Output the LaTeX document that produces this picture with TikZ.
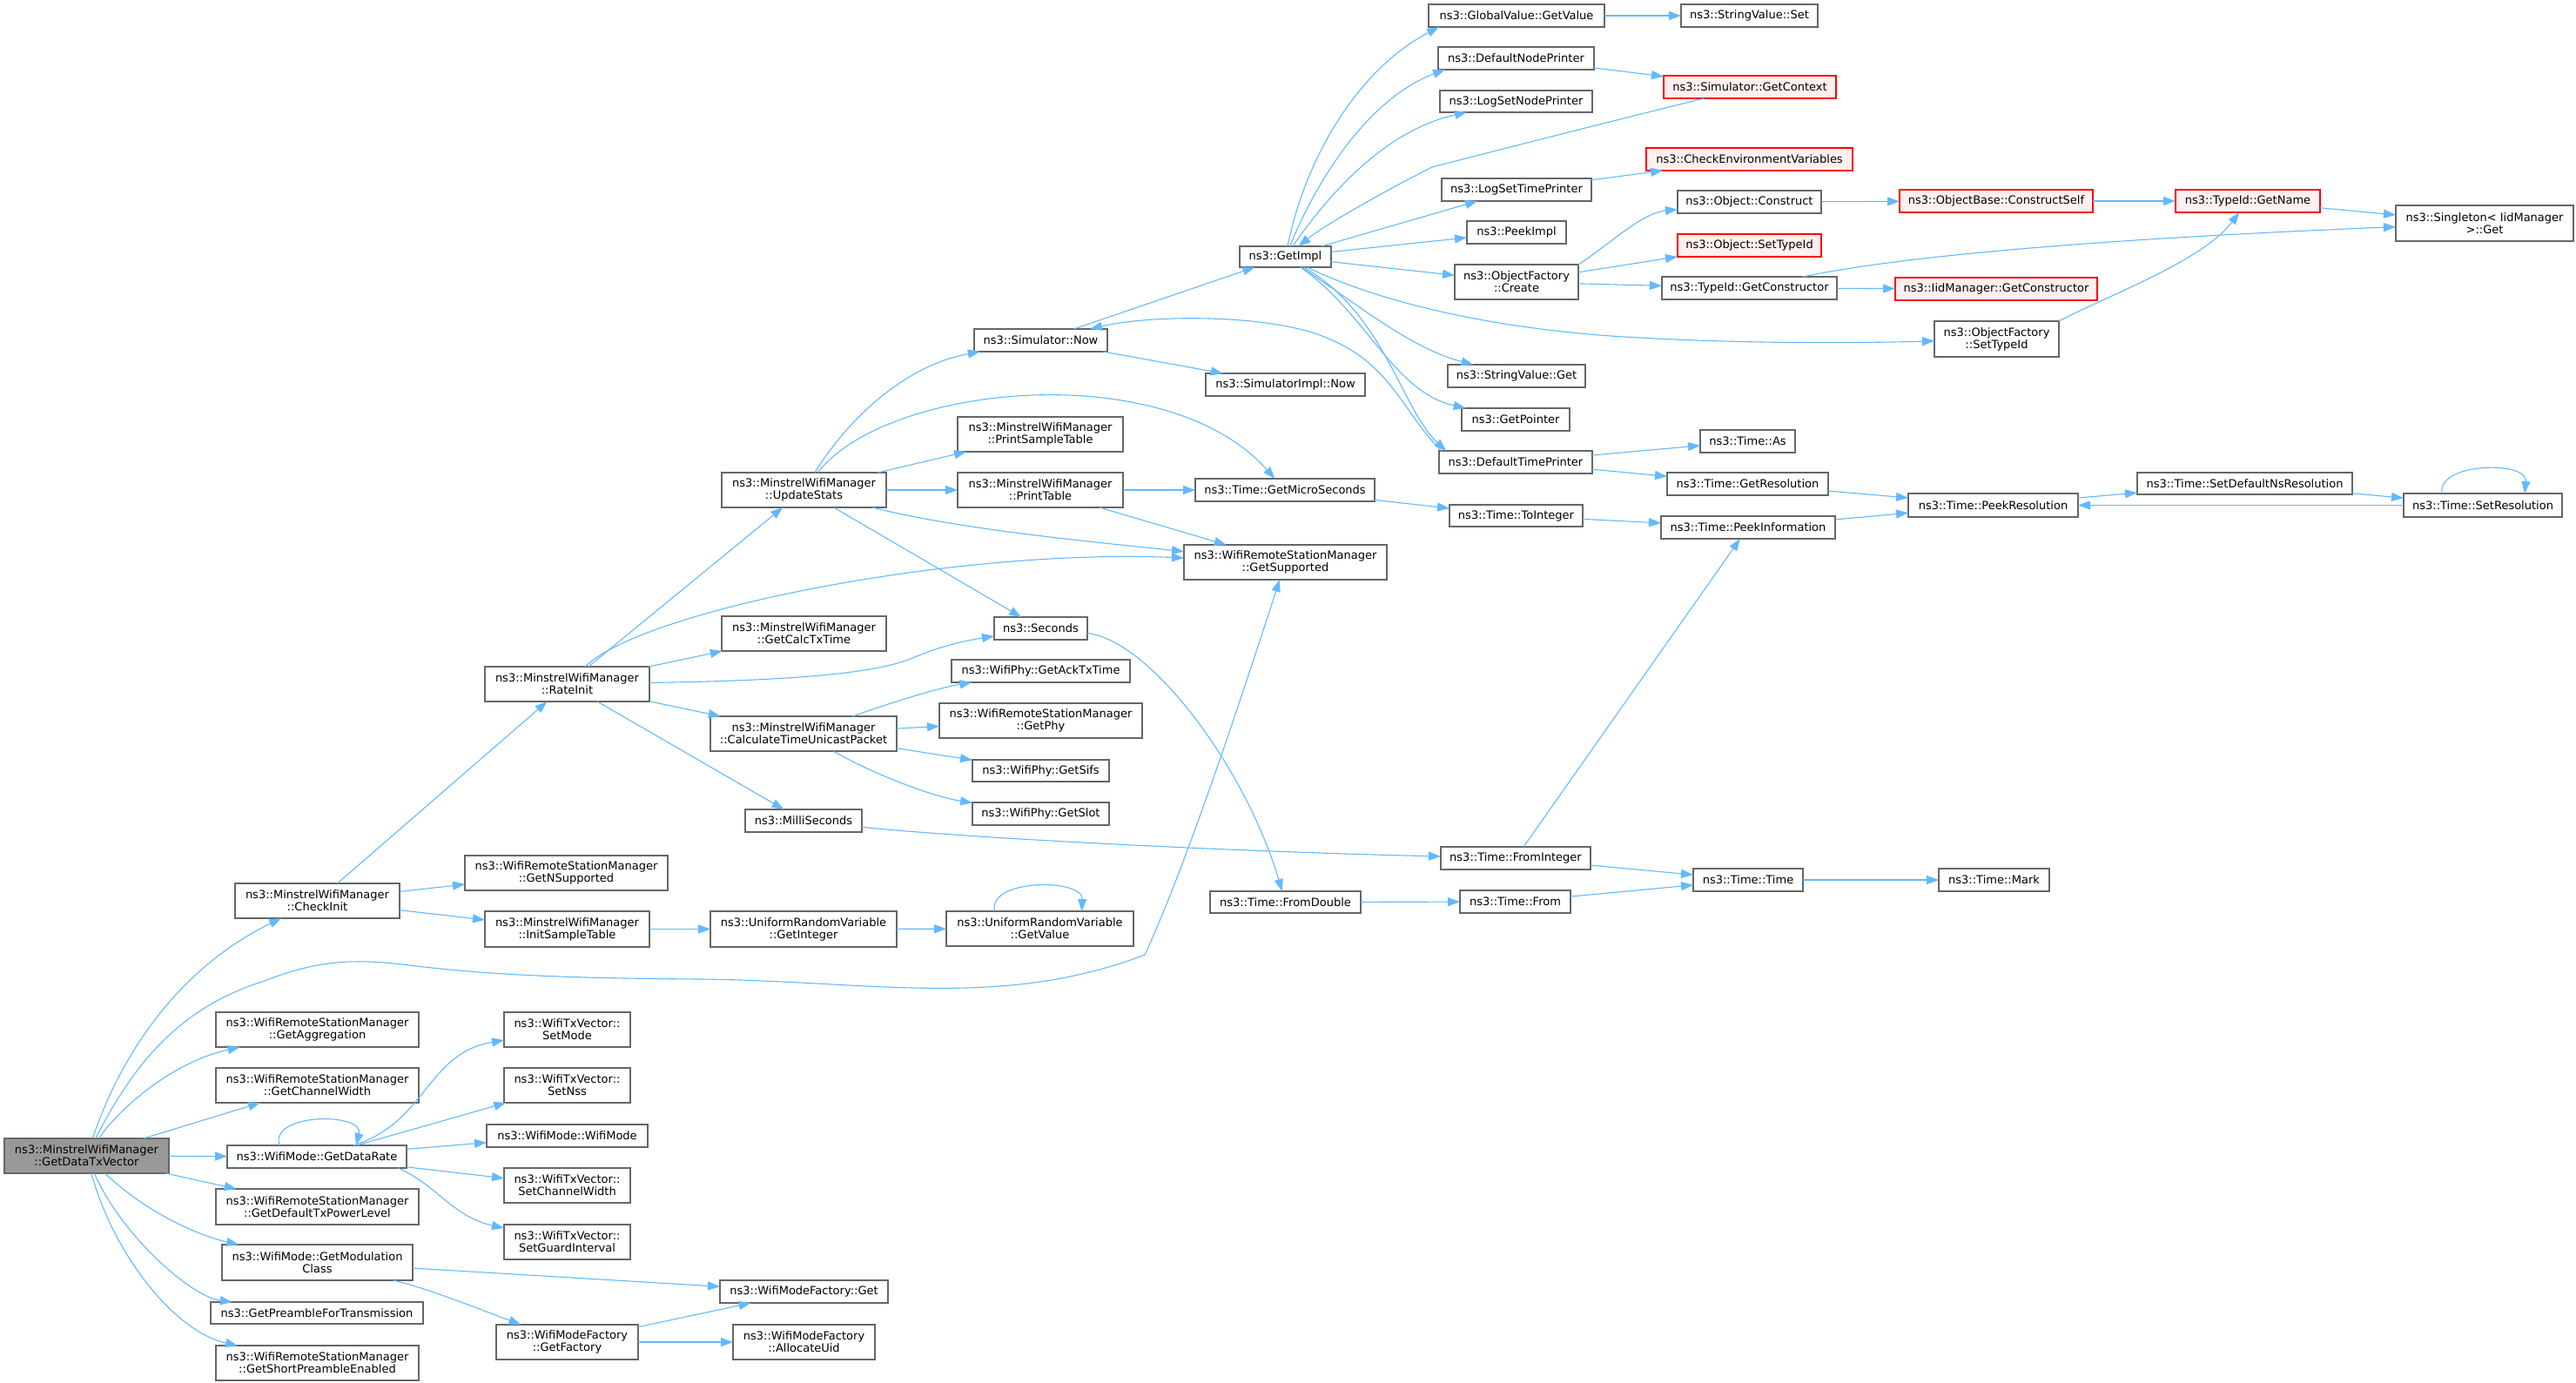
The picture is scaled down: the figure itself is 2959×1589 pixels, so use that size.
\documentclass[tikz,border=0pt]{standalone}
\usepackage{fontspec}
\setmainfont{DejaVu Sans}
\usetikzlibrary{arrows.meta}
\definecolor{edgec}{HTML}{63B8FF}
\definecolor{boxline}{HTML}{666666}
\definecolor{redfill}{HTML}{FFF0F0}
\definecolor{redline}{HTML}{FF0000}
\definecolor{grayfill}{HTML}{999999}
\tikzset{
  fn/.style={draw=boxline, fill=white, line width=1.2pt, inner xsep=3pt, inner ysep=1pt, outer sep=0pt, align=center, font=\fontsize{13}{14}\selectfont},
  fnred/.style={fn, draw=redline, fill=redfill},
  fnmain/.style={fn, fill=grayfill},
  edge/.style={draw=edgec, line width=1.1pt, -{Triangle[length=14pt,width=10pt]}}
}
\newcommand{\mybox}[7]{\node[#1, minimum width={#5pt-#3pt}, minimum height={#6pt-#4pt}] (#2) at ({(#3+#5)/2},{(#4+#6)/2}) {#7};}
\begin{document}
\begin{tikzpicture}[x=1pt,y=-1pt]
\useasboundingbox (0,0) rectangle (2959,1589);
% left column
\mybox{fnmain}{gdtv}{5}{1308}{194}{1348}{ns3::MinstrelWifiManager\\::GetDataTxVector}
\mybox{fn}{checkinit}{270}{1015}{459}{1055}{ns3::MinstrelWifiManager\\::CheckInit}
\mybox{fn}{getnsup}{534}{983}{767}{1023}{ns3::WifiRemoteStationManager\\::GetNSupported}
\mybox{fn}{initsample}{557}{1047}{746}{1088}{ns3::MinstrelWifiManager\\::InitSampleTable}
\mybox{fn}{getinteger}{816}{1047}{1030}{1088}{ns3::UniformRandomVariable\\::GetInteger}
\mybox{fn}{getvalue}{1087}{1047}{1302}{1087}{ns3::UniformRandomVariable\\::GetValue}
\mybox{fn}{getaggr}{248}{1163}{481}{1203}{ns3::WifiRemoteStationManager\\::GetAggregation}
\mybox{fn}{getchw}{248}{1227}{481}{1267}{ns3::WifiRemoteStationManager\\::GetChannelWidth}
\mybox{fn}{getdatarate}{261}{1316}{467}{1342}{ns3::WifiMode::GetDataRate}
\mybox{fn}{setmode}{579}{1163}{724}{1203}{ns3::WifiTxVector::\\SetMode}
\mybox{fn}{setnss}{579}{1227}{724}{1267}{ns3::WifiTxVector::\\SetNss}
\mybox{fn}{wifimode}{559}{1292}{744}{1318}{ns3::WifiMode::WifiMode}
\mybox{fn}{setchw}{579}{1342}{724}{1382}{ns3::WifiTxVector::\\SetChannelWidth}
\mybox{fn}{setgi}{579}{1407}{724}{1447}{ns3::WifiTxVector::\\SetGuardInterval}
\mybox{fn}{getdeftx}{248}{1366}{481}{1407}{ns3::WifiRemoteStationManager\\::GetDefaultTxPowerLevel}
\mybox{fn}{getmodcls}{255}{1430}{474}{1471}{ns3::WifiMode::GetModulation\\Class}
\mybox{fn}{wmfget}{827}{1471}{1020}{1497}{ns3::WifiModeFactory::Get}
\mybox{fn}{getpreamble}{242}{1496}{486}{1521}{ns3::GetPreambleForTransmission}
\mybox{fn}{getfactory}{570}{1522}{733}{1562}{ns3::WifiModeFactory\\::GetFactory}
\mybox{fn}{allocuid}{842}{1522}{1005}{1562}{ns3::WifiModeFactory\\::AllocateUid}
\mybox{fn}{getshort}{248}{1546}{481}{1586}{ns3::WifiRemoteStationManager\\::GetShortPreambleEnabled}
% middle
\mybox{fn}{printsample}{1100}{479}{1290}{519}{ns3::MinstrelWifiManager\\::PrintSampleTable}
\mybox{fn}{updatestats}{829}{543}{1018}{583}{ns3::MinstrelWifiManager\\::UpdateStats}
\mybox{fn}{printtable}{1100}{543}{1290}{583}{ns3::MinstrelWifiManager\\::PrintTable}
\mybox{fn}{getmicro}{1373}{550}{1579}{576}{ns3::Time::GetMicroSeconds}
\mybox{fn}{getsupported}{1360}{626}{1593}{666}{ns3::WifiRemoteStationManager\\::GetSupported}
\mybox{fn}{seconds}{1142}{709}{1249}{735}{ns3::Seconds}
\mybox{fn}{getcalc}{829}{708}{1018}{748}{ns3::MinstrelWifiManager\\::GetCalcTxTime}
\mybox{fn}{rateinit}{557}{766}{746}{806}{ns3::MinstrelWifiManager\\::RateInit}
\mybox{fn}{getack}{1093}{758}{1298}{784}{ns3::WifiPhy::GetAckTxTime}
\mybox{fn}{getphy}{1079}{808}{1312}{848}{ns3::WifiRemoteStationManager\\::GetPhy}
\mybox{fn}{calctime}{816}{823}{1030}{863}{ns3::MinstrelWifiManager\\::CalculateTimeUnicastPacket}
\mybox{fn}{getsifs}{1117}{873}{1274}{898}{ns3::WifiPhy::GetSifs}
\mybox{fn}{getslot}{1117}{922}{1274}{948}{ns3::WifiPhy::GetSlot}
\mybox{fn}{milli}{856}{930}{990}{956}{ns3::MilliSeconds}
% right part
\mybox{fn}{getimpl}{1424}{283}{1529}{307}{ns3::GetImpl}
\mybox{fn}{peekimpl}{1685}{254}{1799}{280}{ns3::PeekImpl}
\mybox{fn}{ofcreate}{1671}{304}{1813}{344}{ns3::ObjectFactory\\::Create}
\mybox{fnred}{objsettypeid}{1927}{269}{2092}{295}{ns3::Object::SetTypeId}
\mybox{fn}{getconstructor}{1909}{318}{2110}{344}{ns3::TypeId::GetConstructor}
\mybox{fn}{simnow}{1119}{378}{1272}{404}{ns3::Simulator::Now}
\mybox{fn}{simimplnow}{1385}{429}{1568}{455}{ns3::SimulatorImpl::Now}
\mybox{fn}{svget}{1663}{419}{1821}{445}{ns3::StringValue::Get}
\mybox{fn}{getpointer}{1679}{469}{1803}{495}{ns3::GetPointer}
\mybox{fn}{deftimeprinter}{1653}{518}{1829}{544}{ns3::DefaultTimePrinter}
\mybox{fn}{timeas}{1953}{494}{2062}{520}{ns3::Time::As}
\mybox{fn}{getres}{1915}{543}{2100}{569}{ns3::Time::GetResolution}
\mybox{fn}{tointeger}{1665}{580}{1818}{605}{ns3::Time::ToInteger}
\mybox{fn}{peekinfo}{1908}{593}{2108}{619}{ns3::Time::PeekInformation}
\mybox{fn}{gvgetvalue}{1641}{5}{1843}{31}{ns3::GlobalValue::GetValue}
\mybox{fn}{svset}{1931}{5}{2088}{31}{ns3::StringValue::Set}
\mybox{fn}{defnodeprinter}{1652}{54}{1831}{80}{ns3::DefaultNodePrinter}
\mybox{fnred}{getcontext}{1911}{87}{2109}{113}{ns3::Simulator::GetContext}
\mybox{fn}{logsetnode}{1654}{104}{1829}{129}{ns3::LogSetNodePrinter}
\mybox{fnred}{checkenv}{1891}{170}{2128}{196}{ns3::CheckEnvironmentVariables}
\mybox{fn}{logsettime}{1656}{205}{1828}{231}{ns3::LogSetTimePrinter}
\mybox{fn}{objconstruct}{1927}{219}{2092}{245}{ns3::Object::Construct}
\mybox{fnred}{constructself}{2182}{218}{2404}{244}{ns3::ObjectBase::ConstructSelf}
\mybox{fnred}{getname}{2499}{218}{2665}{244}{ns3::TypeId::GetName}
\mybox{fn}{singleton}{2752}{236}{2956}{277}{ns3::Singleton< IidManager\\ >::Get}
\mybox{fnred}{iidgetconstructor}{2177}{319}{2409}{345}{ns3::IidManager::GetConstructor}
\mybox{fn}{ofsettypeid}{2222}{369}{2365}{410}{ns3::ObjectFactory\\::SetTypeId}
\mybox{fn}{setdefns}{2455}{543}{2702}{568}{ns3::Time::SetDefaultNsResolution}
\mybox{fn}{peekres}{2192}{567}{2387}{594}{ns3::Time::PeekResolution}
\mybox{fn}{setres}{2761}{567}{2943}{594}{ns3::Time::SetResolution}
\mybox{fn}{frominteger}{1655}{973}{1827}{999}{ns3::Time::FromInteger}
\mybox{fn}{timetime}{1945}{998}{2071}{1024}{ns3::Time::Time}
\mybox{fn}{timemark}{2227}{998}{2354}{1024}{ns3::Time::Mark}
\mybox{fn}{timefrom}{1677}{1023}{1804}{1049}{ns3::Time::From}
\mybox{fn}{fromdouble}{1390}{1024}{1563}{1049}{ns3::Time::FromDouble}
% edges from GetDataTxVector
\draw[edge] (gdtv) .. controls (150,1180) and (230,1100) .. (checkinit);
\draw[edge] (gdtv) .. controls (150,1230) and (200,1160) .. (301,1128) .. controls (360,1105) and (400,1100) .. (470,1109) .. controls (560,1120) and (650,1124) .. (804,1125) .. controls (1000,1127) and (1150,1160) .. (1315,1097) .. controls (1360,1000) and (1420,820) .. (getsupported);
\draw[edge] (gdtv) .. controls (140,1270) and (200,1220) .. (getaggr);
\draw[edge] (gdtv) -- (getchw);
\draw[edge] (gdtv) -- (getdatarate);
\draw[edge] (gdtv) -- (getdeftx);
\draw[edge] (gdtv) .. controls (170,1395) and (230,1420) .. (getmodcls);
\draw[edge] (gdtv) .. controls (140,1420) and (220,1490) .. (getpreamble);
\draw[edge] (gdtv) .. controls (130,1440) and (200,1530) .. (getshort);
% CheckInit
\draw[edge] (checkinit) -- (rateinit);
\draw[edge] (checkinit) -- (getnsup);
\draw[edge] (checkinit) -- (initsample);
\draw[edge] (initsample) -- (getinteger);
\draw[edge] (getinteger) -- (getvalue);
\draw[edge] ([xshift=-52pt]getvalue.north) .. controls +(-8,-38) and +(2,-38) .. ([xshift=48pt]getvalue.north);
% RateInit
\draw[edge] (rateinit) -- (updatestats);
\draw[edge] (rateinit) .. controls (740,700) and (1100,630) .. (getsupported);
\draw[edge] (rateinit) -- (getcalc);
\draw[edge] (rateinit) .. controls (900,782) and (1000,775) .. (1046,757) .. controls (1080,742) and (1110,736) .. (seconds);
\draw[edge] (rateinit) -- (calctime);
\draw[edge] (rateinit) -- (milli);
% UpdateStats
\draw[edge] (updatestats) .. controls (975,480) and (1040,420) .. (simnow);
\draw[edge] (updatestats) .. controls (1020,440) and (1340,410) .. (getmicro);
\draw[edge] (updatestats) -- (printsample);
\draw[edge] (updatestats) -- (printtable);
\draw[edge] (updatestats) .. controls (1100,608) and (1250,622) .. (getsupported);
\draw[edge] (updatestats) -- (seconds);
\draw[edge] (printtable) -- (getmicro);
\draw[edge] (printtable) -- (getsupported);
% CalculateTimeUnicastPacket
\draw[edge] (calctime) .. controls (1030,805) and (1080,790) .. (getack);
\draw[edge] (calctime) -- (getphy);
\draw[edge] (calctime) -- (getsifs);
\draw[edge] (calctime) .. controls (1000,888) and (1070,915) .. (getslot);
% time
\draw[edge] (milli) .. controls (1100,962) and (1400,978) .. (frominteger);
\draw[edge] (seconds) .. controls (1320,735) and (1430,880) .. (fromdouble);
\draw[edge] (fromdouble) -- (timefrom);
\draw[edge] (frominteger) -- (peekinfo);
\draw[edge] (frominteger) -- (timetime);
\draw[edge] (timefrom) -- (timetime);
\draw[edge] (timetime) -- (timemark);
\draw[edge] (getmicro) -- (tointeger);
\draw[edge] (tointeger) -- (peekinfo);
\draw[edge] (peekinfo) -- (peekres);
\draw[edge] (getres) -- (peekres);
\draw[edge] (peekres) -- (setdefns);
\draw[edge] (setdefns) -- (setres);
\draw[edge] (setres) -- (peekres);
\draw[edge] ([xshift=-47pt]setres.north) .. controls +(-6,-36) and +(4,-38) .. ([xshift=48pt]setres.north);
\draw[edge] (deftimeprinter) -- (timeas);
\draw[edge] (deftimeprinter) -- (getres);
% Simulator / GetImpl
\draw[edge] (simnow) -- (getimpl);
\draw[edge] (simnow) -- (simimplnow);
\draw[edge] ([xshift=3pt]deftimeprinter.north west) .. controls (1615,480) and (1600,420) .. (1528,390) .. controls (1470,362) and (1330,360) .. (simnow);
\draw[edge] (getimpl) .. controls (1590,360) and (1610,470) .. ([xshift=8pt]deftimeprinter.north west);
\draw[edge] (getimpl) .. controls (1500,180) and (1560,80) .. ([xshift=12pt]gvgetvalue.south west);
\draw[edge] (getimpl) .. controls (1520,190) and (1580,110) .. ([xshift=8pt]defnodeprinter.south west);
\draw[edge] (getimpl) .. controls (1525,225) and (1590,150) .. (logsetnode);
\draw[edge] (getimpl) -- (logsettime);
\draw[edge] (getimpl) -- (peekimpl);
\draw[edge] (getimpl) -- (ofcreate);
\draw[edge] (getimpl) .. controls (1580,345) and (1700,375) .. (1850,386) .. controls (2000,396) and (2150,394) .. (ofsettypeid);
\draw[edge] (getimpl) .. controls (1560,350) and (1620,400) .. (svget);
\draw[edge] (getimpl) .. controls (1570,360) and (1600,450) .. (getpointer);
\draw[edge] (getcontext) .. controls (1800,152) and (1680,183) .. (1645,192) .. controls (1580,225) and (1520,260) .. (getimpl);
\draw[edge] (gvgetvalue) -- (svset);
\draw[edge] (defnodeprinter) -- (getcontext);
\draw[edge] (logsettime) -- (checkenv);
\draw[edge] (ofcreate.north east) .. controls (1850,280) and (1885,245) .. (objconstruct);
\draw[edge] (ofcreate) -- (objsettypeid);
\draw[edge] (ofcreate) -- (getconstructor);
\draw[edge] (objconstruct) -- (constructself);
\draw[edge] (constructself) -- (getname);
\draw[edge] (getname) -- (singleton);
\draw[edge] (getconstructor) .. controls (2180,295) and (2400,275) .. (singleton);
\draw[edge] (getconstructor) -- (iidgetconstructor);
\draw[edge] (ofsettypeid.north east) .. controls (2420,340) and (2530,300) .. (getname);
% GetDataRate
\draw[edge] ([xshift=-43pt]getdatarate.north) .. controls +(-12,-38) and +(10,-38) .. ([xshift=45pt]getdatarate.north);
\draw[edge] (getdatarate) .. controls (490,1290) and (490,1210) .. (setmode);
\draw[edge] (getdatarate) -- (setnss);
\draw[edge] (getdatarate) -- (wifimode);
\draw[edge] (getdatarate) -- (setchw);
\draw[edge] ([xshift=-10pt]getdatarate.south east) .. controls (500,1360) and (520,1398) .. (setgi);
% GetModulationClass
\draw[edge] (getmodcls) -- (wmfget);
\draw[edge] (getmodcls) .. controls (490,1480) and (540,1500) .. (getfactory);
\draw[edge] (getfactory) -- (wmfget);
\draw[edge] (getfactory) -- (allocuid);
\end{tikzpicture}
\end{document}
